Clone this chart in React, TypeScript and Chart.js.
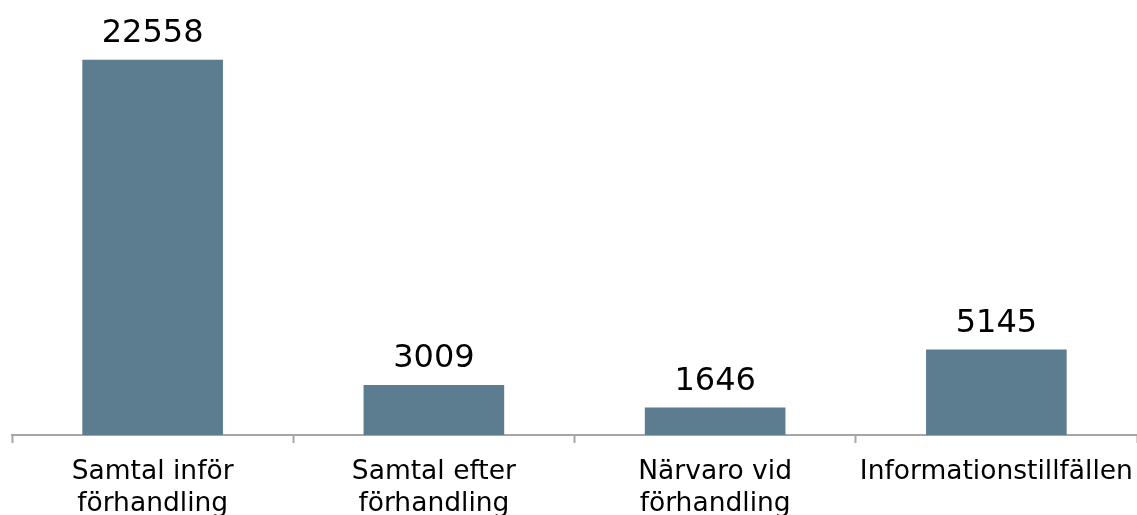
import React, { useEffect, useRef } from "react";
import { Chart, registerables } from "chart.js";

Chart.register(...registerables);

const categories: string[][] = [
  ["Samtal inför", "förhandling"],
  ["Samtal efter", "förhandling"],
  ["Närvaro vid", "förhandling"],
  ["Informationstillfällen"],
];
const values: number[] = [22558, 3009, 1646, 5145];

const BAR_COLOR = "#5B7D8F";
const AXIS_COLOR = "#A6A6A6";
const FONT = "'DejaVu Sans', Verdana, sans-serif";

const valueLabels = {
  id: "valueLabels",
  afterDatasetsDraw(chart: any) {
    const ctx = chart.ctx;
    const meta = chart.getDatasetMeta(0);
    ctx.save();
    ctx.font = `32px ${FONT}`;
    ctx.fillStyle = "#000";
    ctx.textAlign = "center";
    ctx.textBaseline = "alphabetic";
    meta.data.forEach((bar: any, i: number) => {
      ctx.fillText(String(values[i]), bar.x, bar.y - 17.5);
    });
    ctx.restore();
  },
};

export default function App() {
  const ref = useRef<HTMLCanvasElement>(null);
  useEffect(() => {
    if (!ref.current) return;
    const chart = new Chart(ref.current, {
      type: "bar",
      data: {
        labels: categories,
        datasets: [
          {
            data: values,
            backgroundColor: BAR_COLOR,
            barPercentage: 0.5,
            categoryPercentage: 1.0,
          },
        ],
      },
      options: {
        animation: false,
        responsive: false,
        maintainAspectRatio: false,
        devicePixelRatio: 1,
        layout: { padding: { top: 11, left: 4, right: 0, bottom: 0 } },
        plugins: { legend: { display: false }, tooltip: { enabled: false } },
        scales: {
          x: {
            afterFit: (scale: any) => {
              scale.height = 80;
              scale.paddingLeft = 0;
              scale.paddingRight = 0;
            },
            grid: {
              display: true,
              drawOnChartArea: false,
              drawTicks: true,
              tickLength: 8,
              tickWidth: 2,
              tickColor: AXIS_COLOR,
              color: AXIS_COLOR,
              offset: true,
            },
            border: { display: true, color: AXIS_COLOR, width: 2 },
            ticks: {
              color: "#000",
              font: { family: FONT, size: 26.5 },
              maxRotation: 0,
              minRotation: 0,
              autoSkip: false,
              padding: 13,
            },
          },
          y: {
            display: false,
            min: 0,
            max: 25000,
          },
        },
      },
      plugins: [valueLabels],
    });
    return () => chart.destroy();
  }, []);
  return (
    <div style={{ position: "absolute", top: "8px", left: "8px", width: "1129px", height: "507px" }}>
      <canvas ref={ref} width={1129} height={507} style={{ display: "block" }} />
    </div>
  );
}
